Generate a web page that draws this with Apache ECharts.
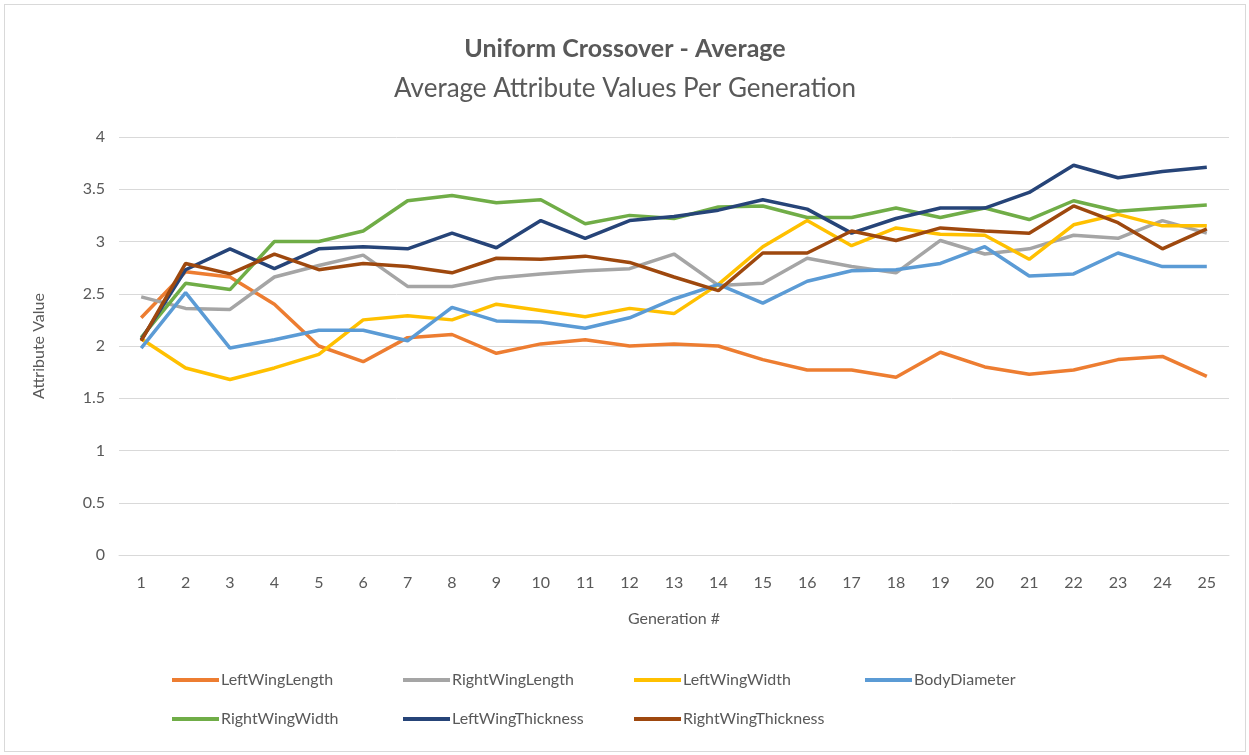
<!DOCTYPE html>
<html>
<head>
<meta charset="utf-8">
<script src="https://cdn.jsdelivr.net/npm/echarts@6/dist/echarts.min.js"></script>
<style>
  html, body { margin: 0; padding: 0; background: #fff; }
  #chart { position: absolute; left: 4px; top: 4px; width: 1240px; height: 746px; border: 1px solid #d9d9d9; }
</style>
</head>
<body>
<div id="chart"></div>
<script>
const generations = ["1","2","3","4","5","6","7","8","9","10","11","12","13","14","15","16","17","18","19","20","21","22","23","24","25"];

const leftWingLength = [2.27, 2.71, 2.66, 2.4, 2.0, 1.85, 2.08, 2.11, 1.93, 2.02, 2.06, 2.0, 2.02, 2.0, 1.87, 1.77, 1.77, 1.7, 1.94, 1.8, 1.73, 1.77, 1.87, 1.9, 1.71];
const rightWingLength = [2.47, 2.36, 2.35, 2.66, 2.77, 2.87, 2.57, 2.57, 2.65, 2.69, 2.72, 2.74, 2.88, 2.58, 2.6, 2.84, 2.76, 2.7, 3.01, 2.88, 2.93, 3.06, 3.03, 3.2, 3.08];
const leftWingWidth = [2.07, 1.79, 1.68, 1.79, 1.92, 2.25, 2.29, 2.25, 2.4, 2.34, 2.28, 2.36, 2.31, 2.59, 2.95, 3.2, 2.96, 3.13, 3.07, 3.06, 2.83, 3.16, 3.26, 3.15, 3.15];
const bodyDiameter = [1.98, 2.51, 1.98, 2.06, 2.15, 2.15, 2.05, 2.37, 2.24, 2.23, 2.17, 2.27, 2.45, 2.59, 2.41, 2.62, 2.72, 2.73, 2.79, 2.95, 2.67, 2.69, 2.89, 2.76, 2.76];
const rightWingWidth = [2.08, 2.6, 2.54, 3.0, 3.0, 3.1, 3.39, 3.44, 3.37, 3.4, 3.17, 3.25, 3.22, 3.33, 3.34, 3.23, 3.23, 3.32, 3.23, 3.32, 3.21, 3.39, 3.29, 3.32, 3.35];
const leftWingThickness = [2.06, 2.73, 2.93, 2.74, 2.93, 2.95, 2.93, 3.08, 2.94, 3.2, 3.03, 3.2, 3.24, 3.3, 3.4, 3.31, 3.08, 3.22, 3.32, 3.32, 3.47, 3.73, 3.61, 3.67, 3.71];
const rightWingThickness = [2.05, 2.79, 2.69, 2.88, 2.73, 2.79, 2.76, 2.7, 2.84, 2.83, 2.86, 2.8, 2.66, 2.53, 2.89, 2.89, 3.1, 3.01, 3.13, 3.1, 3.08, 3.34, 3.18, 2.93, 3.12];

const seriesNames = ["LeftWingLength", "RightWingLength", "LeftWingWidth", "BodyDiameter", "RightWingWidth", "LeftWingThickness", "RightWingThickness"];
const seriesData = [leftWingLength, rightWingLength, leftWingWidth, bodyDiameter, rightWingWidth, leftWingThickness, rightWingThickness];
const colors = ["#ED7D31", "#A5A5A5", "#FFC000", "#5B9BD5", "#70AD47", "#264478", "#9E480E"];

const font = "Lato, 'Open Sans', sans-serif";
const chart = echarts.init(document.getElementById("chart"));

// legend laid out in a 4-column grid like the Excel one
const legends = seriesNames.map((name, i) => ({
  left: 162 + (i % 4) * 231,
  top: i < 4 ? 662 : 701,
  icon: "rect",
  itemWidth: 47,
  itemHeight: 4,
  textStyle: { fontFamily: font, fontSize: 16, color: "#595959", padding: [0, 0, 0, -3] },
  data: [name]
}));

chart.setOption({
  color: colors,
  animation: false,
  title: [
    {
      text: "Uniform Crossover - Average",
      left: "center",
      top: 26,
      textStyle: { fontFamily: font, fontSize: 25, fontWeight: "bold", color: "#595959" }
    },
    {
      text: "Average Attribute Values Per Generation",
      left: "center",
      top: 66,
      textStyle: { fontFamily: font, fontSize: 26, fontWeight: "normal", color: "#595959" }
    }
  ],
  grid: { left: 114, right: 16, top: 132, bottom: 196 },
  xAxis: {
    type: "category",
    data: generations,
    boundaryGap: true,
    name: "Generation #",
    nameLocation: "middle",
    nameGap: 56,
    nameTextStyle: { fontFamily: font, fontSize: 16, color: "#595959" },
    axisLine: { lineStyle: { color: "#d9d9d9" } },
    axisTick: { show: false },
    axisLabel: { fontFamily: font, fontSize: 16, color: "#595959", margin: 20 }
  },
  yAxis: {
    type: "value",
    min: 0,
    max: 4,
    interval: 0.5,
    name: "Attribute Value",
    nameLocation: "middle",
    nameGap: 72,
    nameTextStyle: { fontFamily: font, fontSize: 16, color: "#595959" },
    axisLine: { show: false },
    axisTick: { show: false },
    splitLine: { lineStyle: { color: "#d9d9d9", width: 1 } },
    axisLabel: { fontFamily: font, fontSize: 16, color: "#595959", margin: 14 }
  },
  legend: legends,
  series: seriesNames.map((name, i) => ({
    name: name,
    type: "line",
    data: seriesData[i],
    symbol: "none",
    lineStyle: { width: 3.5, color: colors[i] },
    itemStyle: { color: colors[i] }
  }))
});
</script>
</body>
</html>
